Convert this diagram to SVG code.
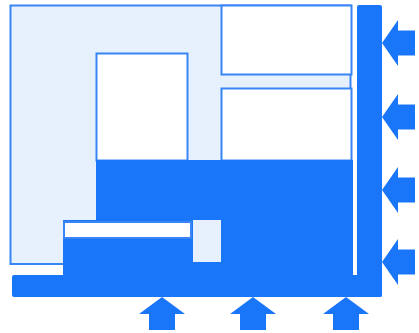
<svg xmlns="http://www.w3.org/2000/svg" width="419" height="333" viewBox="0 0 419 333">
<style>
.light{fill:#e7f0fd;stroke:#3a85f6;stroke-width:2}
.white{fill:#ffffff;stroke:#3a85f6;stroke-width:2}
.solid{fill:#1a76f8}
.lf{fill:#e7f0fd}
</style>
<defs>
<path id="arrL" class="solid" d="M0,0 L16,-23 L16,-12.5 L33,-12.5 L33,12.5 L16,12.5 L16,23 Z"/>
<path id="arrU" class="solid" d="M0,0 L23,17 L13,17 L13,33 L-13,33 L-13,17 L-23,17 Z"/>
</defs>
<rect width="419" height="333" fill="#ffffff"/>
<g id="outer"><rect class="light" x="10.5" y="5.5" width="340" height="258.5"/></g>
<g id="box-top-right"><rect class="white" x="221.5" y="5.5" width="130" height="69"/></g>
<g id="box-mid-right"><rect class="white" x="221.5" y="88.5" width="130" height="72"/></g>
<g id="box-tall"><rect class="white" x="96.5" y="53.5" width="91" height="107"/></g>
<g id="solid-mass">
<rect class="solid" x="96" y="160" width="257" height="115"/>
<rect class="solid" x="63" y="220" width="130" height="55"/>
<rect class="lf" x="193" y="220" width="28" height="42"/>
<rect class="white" x="64" y="222" width="127" height="16"/>
</g>
<g id="base-slab"><rect class="solid" x="12" y="275" width="370" height="22" rx="2"/></g>
<g id="side-wall"><rect class="solid" x="357" y="5" width="25" height="292" rx="2"/></g>
<g id="connectors">
<use href="#arrL" x="382" y="43"/>
<use href="#arrL" x="382" y="117"/>
<use href="#arrL" x="382" y="190"/>
<use href="#arrL" x="382" y="262"/>
<use href="#arrU" x="162" y="297"/>
<use href="#arrU" x="253" y="297"/>
<use href="#arrU" x="346" y="297"/>
</g>
</svg>
